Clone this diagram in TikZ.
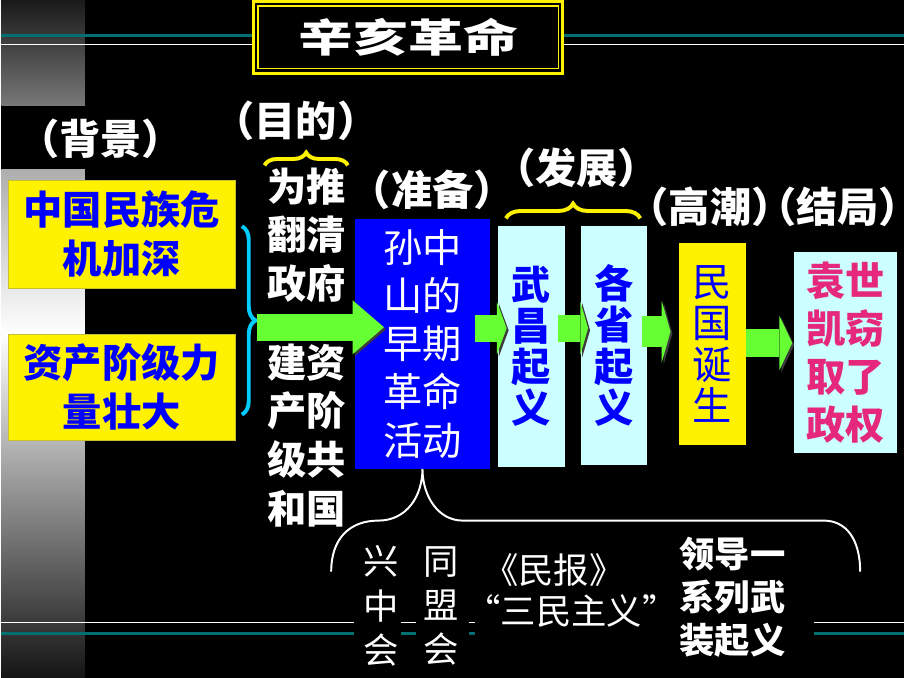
\documentclass[tikz,border=0pt]{standalone}
\usepackage{fontspec}
\setmainfont{Noto Sans CJK SC}
\usepackage{tikz}
\usetikzlibrary{backgrounds}
\usetikzlibrary{arrows.meta}
\usetikzlibrary{calc}
\usetikzlibrary{decorations.pathreplacing}
\definecolor{lineteal}{RGB}{0,112,112}
\definecolor{palecyan}{RGB}{204,255,255}
\definecolor{bracecyan}{RGB}{0,204,255}
\definecolor{arrowgreen}{RGB}{102,255,51}
\definecolor{shadowgray}{RGB}{60,60,60}
\definecolor{yuanpink}{RGB}{230,40,125}
\tikzstyle{lbl}=[text=white, inner sep=0pt, font=\bfseries\fontsize{42}{42}\selectfont]
\tikzstyle{cause}=[rectangle, fill=yellow, draw=yellow!75!black, thin, text=blue, align=center, font=\bfseries\fontsize{40}{50}\selectfont]
\tikzstyle{aim}=[text=white, align=center, inner sep=0pt, font=\bfseries\fontsize{40}{49.5}\selectfont]
\tikzstyle{stage}=[rectangle, fill=palecyan, text=blue, align=center, font=\bfseries\fontsize{40}{42}\selectfont]
\tikzstyle{sub}=[text=white, align=center, inner sep=0pt, font=\fontsize{36}{45}\selectfont]
\tikzstyle{brace}=[decorate, decoration={brace, amplitude=#1}, line width=4pt]
\tikzset{bigarrow/.style n args={3}{draw=arrowgreen, line width=#1,
  -{Triangle[length=#2, width=#3, line width=0pt]},
  preaction={draw=shadowgray, transform canvas={shift={(2pt,-2pt)}}}}}

\begin{document}
\begin{tikzpicture}[x=1pt, y=-1pt]
	\fill[black] (0,0) rectangle (920,690);
	% left strip
	\shade[top color=black!90, bottom color=black!53] (0,0) rectangle (85,107);
	\shade[top color=black!32, bottom color=white] (0,172) rectangle (85,340);
	\shade[top color=white, bottom color=black!92] (0,340) rectangle (85,690);
	% rules
	\draw[lineteal, line width=3pt] (0,36) -- (920,36);
	\draw[white, line width=1.5pt] (0,45) -- (920,45);
	\foreach \a/\b in {0/359, 407/422, 476/483, 828/920} {
		\draw[white, line width=1.5pt] (\a,634) -- (\b,634);
		\draw[lineteal, line width=3pt] (\a,645) -- (\b,645);
	}
	% title
	\draw (414.5,37.5) node[rectangle, fill=black, draw=yellow, line width=3pt, minimum width=315pt, minimum height=73pt, text=white, font=\bfseries\fontsize{40}{40}\selectfont] (title) {\scalebox{1.4}[1]{辛亥革命}};
	\draw[yellow, line width=1.5pt] ($(title.north west)+(6,6)$) rectangle ($(title.south east)+(-6,-6)$);

	% labels
	\draw (101,141) node[lbl] (lblbg) {（背景）};
	\draw (300,123) node[lbl] (lblaim) {（目的）};
	\draw (439,193) node[lbl] (lblprep) {（准备）};
	\draw (586,171) node[lbl] (lbldev) {（发展）};
	\draw (722,210) node[lbl] (lblpeak) {（高潮）};
	\draw (852,210) node[lbl] (lblend) {（结局）};

	% background
	\draw (122.5,238) node[cause, minimum width=231pt, minimum height=110pt] (cause1) {中国民族危\\机加深};
	\draw (122.5,394) node[cause, minimum width=231pt, minimum height=108pt] (cause2) {资产阶级力\\量壮大};
	\draw[brace=14pt, bracecyan] (245,230) -- (245,422);
	\coordinate (bracetip) at (260,333);

	% aim
	\draw[brace=13pt, yellow] (268,168) -- (353,168);
	\draw (311,239) node[aim] (aim1) {为推\\翻清\\政府};
	\draw (311,443) node[aim] (aim2) {建资\\产阶\\级共\\和国};

	% stages
	\draw (429,350) node[rectangle, fill=blue, minimum width=138pt, minimum height=254pt, text=white, align=center, font=\fontsize{40}{49}\selectfont] (prep) {孙中\\山的\\早期\\革命\\活动};
	\draw (540,352.5) node[stage, minimum width=68pt, minimum height=245pt] (wuchang) {武\\昌\\起\\义};
	\draw (624.5,351.5) node[stage, minimum width=67pt, minimum height=243pt] (gesheng) {各\\省\\起\\义};
	\draw (724.5,350) node[stage, fill=yellow, minimum width=69pt, minimum height=206pt, font=\fontsize{40}{42}\selectfont] (mingguo) {民\\国\\诞\\生};
	\draw (860.5,358.5) node[stage, text=yuanpink, minimum width=105pt, minimum height=205pt, font=\bfseries\fontsize{40}{49}\selectfont] (yuan) {袁世\\凯窃\\取了\\政权};
	\draw[brace=15pt, yellow] (514,222) -- (651,222);

	% arrows
	\draw[bigarrow={28pt}{32pt}{55pt}] (bracetip) -- ($(bracetip -| prep.west)+(30,0)$);
	\draw[bigarrow={28pt}{10pt}{54pt}] ($(prep.east)+(-16,-16)$) -- ($(wuchang.west)+(9,-18.5)$);
	\draw[bigarrow={28pt}{8pt}{55pt}] ($(wuchang.east)+(-7,-18.5)$) -- ($(gesheng.west)+(7,-17.5)$);
	\draw[bigarrow={31pt}{9pt}{63pt}] ($(gesheng.east)+(-6,-14)$) -- ($(mingguo.west)+(-8,-12.5)$);
	\draw[bigarrow={28pt}{13pt}{55pt}] ($(mingguo.east)+(-1,-1)$) -- ($(yuan.west)+(-2,-9.5)$);

	% early activities
	\draw[white, line width=2pt] (336,582) .. controls (336,548) and (355,530) .. (384,530) .. controls (413,530) and (429,505) .. (prep.south) .. controls (429,505) and (445,530) .. (470,530) -- (838,530) .. controls (860,530) and (875,548) .. (875,582);
	\draw (387,617) node[sub] (xzh) {兴\\中\\会};
	\draw (448,617) node[sub] (tmh) {同\\盟\\会};
	\draw (563,580) node[sub] (minbao) {《民报》};
	\draw (581,622) node[sub] (sanmin) {“三民主义”};
	\draw (745,608) node[sub, font=\bfseries\fontsize{36}{43.5}\selectfont] (lead) {领导一\\系列武\\装起义};
	\end{tikzpicture}
\end{document}
